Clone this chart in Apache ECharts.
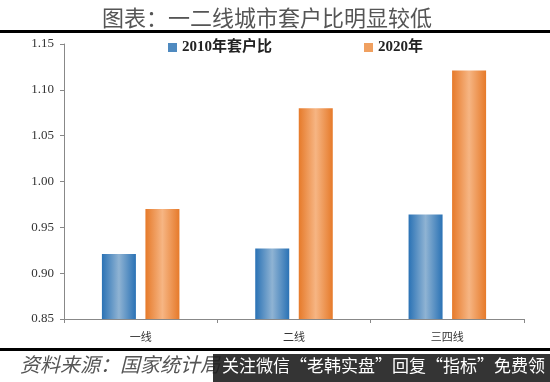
<!DOCTYPE html>
<html><head><meta charset="utf-8">
<script src="https://cdn.jsdelivr.net/npm/echarts@6/dist/echarts.min.js"></script>
<style>html,body{margin:0;padding:0;background:#fff}#c{width:550px;height:382px}</style>
</head><body><div id="c"></div>
<script>
const categories = ['一线', '二线', '三四线'];
const series2010 = [0.921, 0.927, 0.964];
const series2020 = [0.970, 1.080, 1.121];
const yTicks = [0.85, 0.90, 0.95, 1.00, 1.05, 1.10, 1.15];
const seriesNames = ['2010年套户比', '2020年'];

function grad(dark, light) {
  return new echarts.graphic.LinearGradient(0, 0, 1, 0, [
    {offset: 0, color: dark}, {offset: 0.5, color: light}, {offset: 1, color: dark}
  ]);
}
const chart = echarts.init(document.getElementById('c'));
chart.setOption({
  animation: false,
  backgroundColor: '#fff',
  title: {
    text: '图表：一二线城市套户比明显较低',
    left: 97, top: 2,
    textStyle: {fontFamily: 'Noto Sans CJK SC', fontWeight: 'normal', fontSize: 22, color: '#555'}
  },
  legend: {
    top: 35, left: 163, itemGap: 92, itemWidth: 9, itemHeight: 9,
    textStyle: {fontFamily: 'Liberation Serif, Noto Sans CJK SC', fontWeight: 'bold', fontSize: 15, color: '#222'},
    data: [
      {name: seriesNames[0], icon: 'rect', itemStyle: {color: '#4f8ac0'}},
      {name: seriesNames[1], icon: 'rect', itemStyle: {color: '#f0a060'}}
    ]
  },
  grid: {left: 64, right: 26, top: 44, bottom: 63},
  xAxis: {
    type: 'category', data: categories,
    axisLine: {lineStyle: {color: '#888'}},
    axisTick: {show: true, length: 4, lineStyle: {color: '#888'}},
    axisLabel: {fontFamily: 'Noto Sans CJK SC', fontSize: 11, color: '#333', margin: 12}
  },
  yAxis: {
    type: 'value', min: 0.85, max: 1.15, interval: 0.05,
    axisLine: {show: true, lineStyle: {color: '#888'}},
    axisTick: {show: true, length: 4, lineStyle: {color: '#888'}},
    splitLine: {show: false},
    axisLabel: {fontFamily: 'Liberation Serif', fontSize: 13, color: '#333', margin: 10,
      formatter: v => v.toFixed(2)}
  },
  series: [
    {name: seriesNames[0], type: 'bar', data: series2010, barWidth: 34, barGap: '28%',
     itemStyle: {color: grad('#2a72b5', '#8fb3d3')}},
    {name: seriesNames[1], type: 'bar', data: series2020, barWidth: 34,
     itemStyle: {color: grad('#e67a2a', '#f6b583')}}
  ],
  graphic: [
    {type: 'rect', shape: {x: 0, y: 30, width: 550, height: 3}, style: {fill: '#000'}},
    {type: 'rect', shape: {x: 0, y: 348, width: 550, height: 3}, style: {fill: '#000'}},
    {type: 'text', left: 20, top: 354,
     style: {text: '资料来源：国家统计局', fontFamily: 'Noto Sans CJK SC', fontStyle: 'italic', fontSize: 20, fill: '#555'}},
    {type: 'rect', shape: {x: 213, y: 354, width: 337, height: 28}, style: {fill: 'rgba(30,30,30,0.9)'}},
    {type: 'text', left: 222, top: 357,
     style: {text: '关注微信“老韩实盘”回复“指标”免费领', fontFamily: 'Noto Sans CJK SC', fontSize: 17, fill: '#fff'}}
  ]
});
</script></body></html>
